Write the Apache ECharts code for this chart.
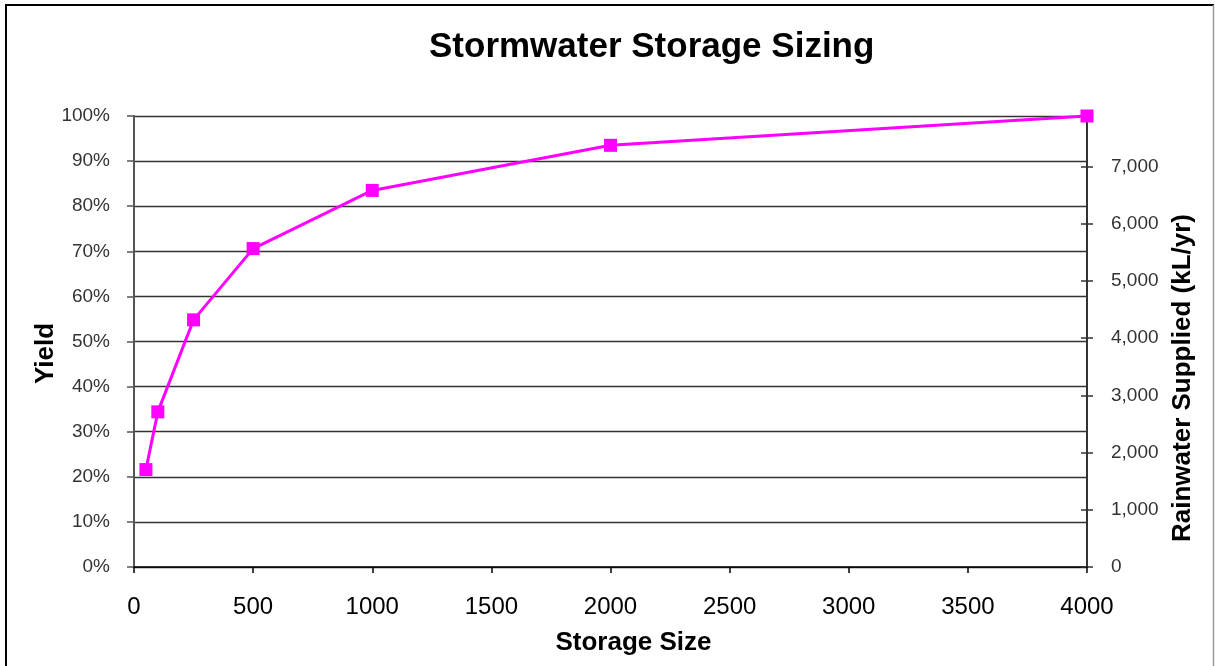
<!DOCTYPE html>
<html>
<head>
<meta charset="utf-8">
<script src="https://cdn.jsdelivr.net/npm/echarts@6/dist/echarts.min.js"></script>
<style>
  html, body { margin: 0; padding: 0; background: #ffffff; }
  #chart { width: 1215px; height: 666px; }
</style>
</head>
<body>
<div id="chart"></div>
<script>
// Storage size (kL) against yield (% of demand met)
const storageSizes = [50, 100, 250, 500, 1000, 2000, 4000];
const yieldPercent = [21.6, 34.4, 54.8, 70.6, 83.5, 93.5, 100];

// Secondary scale: rainwater supplied at 100% yield (kL/yr)
const suppliedAtFullYield = 7880;

const titleText = 'Stormwater Storage Sizing';
const xAxisName = 'Storage Size';
const leftAxisName = 'Yield';
const rightAxisName = 'Rainwater Supplied (kL/yr)';

const chart = echarts.init(document.getElementById('chart'), null, { renderer: 'canvas' });

const font = 'Liberation Sans, Arial, sans-serif';
const grid = { left: 134, right: 128, top: 116, bottom: 99 };

chart.setOption({
  backgroundColor: '#ffffff',
  animation: false,
  title: {
    text: titleText,
    left: 424,
    top: 25,
    textStyle: { fontFamily: font, fontSize: 35, fontWeight: 'bold', color: '#000' }
  },
  grid: grid,
  xAxis: {
    type: 'value',
    min: 0,
    max: 4000,
    interval: 500,
    name: xAxisName,
    nameLocation: 'middle',
    nameGap: 63,
    nameTextStyle: {
      fontFamily: font, fontSize: 26, fontWeight: 'bold', color: '#000',
      padding: [0, 0, 0, 46]
    },
    axisLine: { show: true, lineStyle: { color: '#000', width: 1.5 } },
    axisTick: { show: true, length: 6, lineStyle: { color: '#000', width: 1.5 } },
    axisLabel: { fontFamily: font, fontSize: 24, color: '#000', margin: 28, formatter: function (v) { return String(v); } },
    splitLine: { show: false }
  },
  yAxis: [
    {
      type: 'value',
      position: 'left',
      min: 0,
      max: 100,
      interval: 10,
      name: leftAxisName,
      nameLocation: 'middle',
      nameRotate: 90,
      nameGap: 75,
      nameMoveOverlap: false,
      nameTextStyle: {
        fontFamily: font, fontSize: 26, fontWeight: 'bold', color: '#000',
        padding: [0, 24, 0, 0]
      },
      axisLine: { show: true, lineStyle: { color: '#555', width: 2 } },
      axisTick: { show: true, length: 7, lineStyle: { color: '#555', width: 1.5 } },
      axisLabel: { fontFamily: font, fontSize: 19, color: '#333', margin: 24, formatter: '{value}%' },
      splitLine: { show: true, lineStyle: { color: '#333', width: 1.3 } }
    },
    {
      type: 'value',
      position: 'right',
      min: 0,
      max: suppliedAtFullYield,
      interval: 1000,
      name: rightAxisName,
      nameLocation: 'middle',
      nameRotate: 90,
      nameGap: 80,
      nameTextStyle: {
        fontFamily: font, fontSize: 26, fontWeight: 'bold', color: '#000',
        padding: [0, 73, 0, 0]
      },
      axisLine: { show: true, lineStyle: { color: '#333', width: 2 } },
      axisTick: { show: true, length: 6, lineStyle: { color: '#333', width: 1.5 } },
      axisLabel: {
        fontFamily: font, fontSize: 19, color: '#333', margin: 24,
        showMaxLabel: false,
        formatter: function (v) { return v === suppliedAtFullYield ? '' : v.toLocaleString('en-US'); }
      },
      splitLine: { show: false }
    },
    {
      // inner half of the crossing tick marks on the right axis
      type: 'value',
      position: 'right',
      min: 0,
      max: suppliedAtFullYield,
      interval: 1000,
      axisLine: { show: false },
      axisTick: { show: true, inside: true, length: 6, lineStyle: { color: '#333', width: 1.5 } },
      axisLabel: { show: false },
      splitLine: { show: false }
    }
  ],
  graphic: [
    { type: 'line', shape: { x1: 5, y1: 5, x2: 1214, y2: 5 }, style: { stroke: '#000', lineWidth: 2 } },
    { type: 'line', shape: { x1: 6, y1: 5, x2: 6, y2: 666 }, style: { stroke: '#000', lineWidth: 2 } },
    { type: 'line', shape: { x1: 1213.5, y1: 5, x2: 1213.5, y2: 666 }, style: { stroke: '#999', lineWidth: 1.5 } }
  ],
  series: [
    {
      type: 'line',
      yAxisIndex: 0,
      data: storageSizes.map((s, i) => [s, yieldPercent[i]]),
      symbol: 'rect',
      symbolSize: 13,
      itemStyle: { color: '#ff00ff' },
      lineStyle: { color: '#ff00ff', width: 3 },
      z: 5
    }
  ]
});
</script>
</body>
</html>
